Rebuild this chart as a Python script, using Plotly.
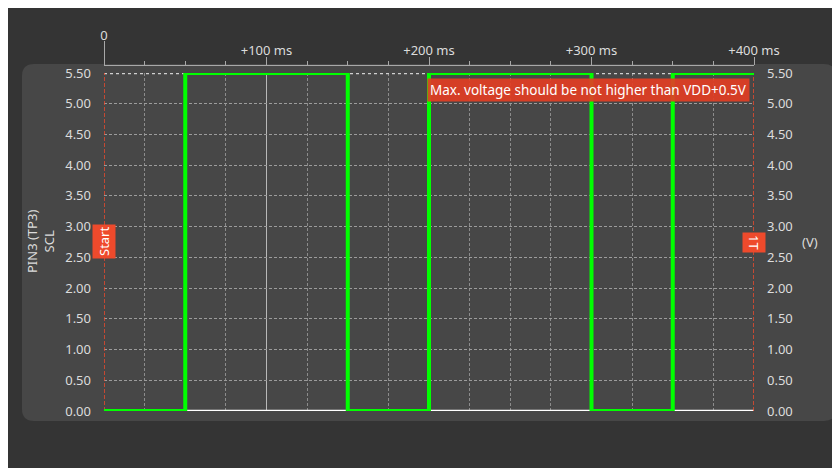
import plotly.graph_objects as go

# ---- data ----
time_ms = [0, 50, 150, 200, 300, 350, 400]
scl_v = [0, 5.5, 0, 5.5, 0, 5.5, 5.5]
t_range = [0, 400]
v_max = 5.5
v_min = 0.0
top_tick_vals = [100, 200, 300, 400]
top_tick_text = ["+100 ms", "+200 ms", "+300 ms", "+400 ms"]
marker_times = [0, 400]
marker_labels = ["Start", "1T"]
warning_text = "Max. voltage should be not higher than VDD+0.5V"
y_title = "PIN3 (TP3)<br>SCL"
unit_text = "(V)"

FONT = "Noto Sans"
TXT = "#dcdcdc"
RED = "#ee4a2c"
FS = 13

W, H = 833, 461
ml, mr, mt, mb = 96, 87, 57, 58
plot_w = W - ml - mr
plot_h = H - mt - mb
ydom_top = (plot_h - 8) / plot_h

fig = go.Figure()

# reference lines (limits)
fig.add_trace(go.Scatter(x=t_range, y=[v_max, v_max], mode="lines",
                         line=dict(color="#d0d0d0", width=2.5, dash="dot"),
                         hoverinfo="skip", showlegend=False))
fig.add_trace(go.Scatter(x=t_range, y=[v_min, v_min], mode="lines",
                         line=dict(color="#ffffff", width=2.5),
                         hoverinfo="skip", showlegend=False))
# marker lines
for t in marker_times:
    fig.add_trace(go.Scatter(x=[t, t], y=[v_min, v_max], mode="lines",
                             line=dict(color=RED, width=1.5, dash="4px,2px"),
                             hoverinfo="skip", showlegend=False))
# signal
fig.add_trace(go.Scatter(x=time_ms, y=scl_v, mode="lines", line_shape="hv",
                         line=dict(color="#00ff00", width=4),
                         showlegend=False))
# invisible traces to activate auxiliary axes
fig.add_trace(go.Scatter(x=t_range, y=[v_min, v_max], yaxis="y2", mode="lines",
                         line=dict(width=0), hoverinfo="skip", showlegend=False, opacity=0))
fig.add_trace(go.Scatter(x=t_range, y=[v_min, v_max], xaxis="x2", mode="lines",
                         line=dict(width=0), hoverinfo="skip", showlegend=False, opacity=0))
fig.add_trace(go.Scatter(x=t_range, y=[v_min, v_max], xaxis="x3", mode="lines",
                         line=dict(width=0), hoverinfo="skip", showlegend=False, opacity=0))

# panel rounded rect
px0 = (14 - ml) / plot_w
px1 = (828 - ml) / plot_w
py0 = (H - mb - 413) / plot_h
py1 = (H - mb - 56) / plot_h
rx = 12 / plot_w
ry = 12 / plot_h
path = (f"M {px0+rx},{py0} L {px1-rx},{py0} Q {px1},{py0} {px1},{py0+ry} "
        f"L {px1},{py1-ry} Q {px1},{py1} {px1-rx},{py1} L {px0+rx},{py1} "
        f"Q {px0},{py1} {px0},{py1-ry} L {px0},{py0+ry} Q {px0},{py0} {px0+rx},{py0} Z")
fig.add_shape(type="path", path=path, xref="paper", yref="paper",
              fillcolor="#474747", line=dict(width=0), layer="below")

axis_font = dict(family=FONT, size=FS, color=TXT)

fig.update_layout(
    width=W, height=H,
    margin=dict(l=ml, r=mr, t=mt, b=mb),
    paper_bgcolor="#343434",
    plot_bgcolor="#444444",
    font=dict(family=FONT, size=FS, color=TXT),
    xaxis=dict(range=t_range, showgrid=True, tick0=0, dtick=100,
               gridcolor="#b8b8b8", gridwidth=1, showticklabels=False,
               zeroline=False, showline=False, ticks="",
               minor=dict(dtick=25, tick0=0, showgrid=True, gridcolor="#8c8c8c",
                          griddash="3px,2px", gridwidth=1)),
    xaxis2=dict(range=t_range, overlaying="x", anchor="free", position=1, side="top",
                showgrid=False, zeroline=False, showline=True, linecolor="#a8a8a8",
                linewidth=1, tickmode="array", tickvals=top_tick_vals,
                ticktext=top_tick_text, ticks="outside", ticklen=8,
                tickcolor="#a8a8a8", tickfont=axis_font, ticklabelstandoff=-3,
                minor=dict(dtick=25, tick0=0, ticks="outside", ticklen=4,
                           tickcolor="#a8a8a8")),
    xaxis3=dict(range=t_range, overlaying="x", anchor="free", position=1, side="top",
                showgrid=False, zeroline=False, showline=False, tickmode="array",
                tickvals=[0], ticktext=["0"], ticks="outside", ticklen=24,
                tickcolor="#a8a8a8", tickfont=axis_font, ticklabelstandoff=-4),
    yaxis=dict(range=[v_min, v_max], domain=[0, ydom_top], dtick=0.5, tick0=0,
               tickformat=".2f", showgrid=True, gridcolor="#9c9c9c",
               griddash="3px,2px", gridwidth=1, zeroline=False, showline=False,
               ticks="", ticklabelstandoff=12, tickfont=axis_font),
    yaxis2=dict(range=[v_min, v_max], overlaying="y", side="right", dtick=0.5,
                tick0=0, tickformat=".2f", showgrid=False, zeroline=False,
                showline=False, ticks="", ticklabelstandoff=12, tickfont=axis_font),
)

# marker labels
for t, lab, ang in zip(marker_times, marker_labels, [-90, 90]):
    fig.add_annotation(x=t, y=2.75, xref="x", yref="y", text=lab, textangle=ang,
                       showarrow=False, bgcolor=RED, borderpad=2,
                       font=dict(family=FONT, size=FS, color="#ffffff"))

# warning label
fig.add_annotation(x=400, y=v_max, xref="x", yref="y", text=warning_text,
                   xanchor="right", yanchor="top", xshift=-4, yshift=-5,
                   showarrow=False, bgcolor="rgba(226,62,36,0.92)", borderpad=2,
                   font=dict(family=FONT, size=13.5, color="#ffffff"))

# axis titles
fig.add_annotation(x=(32 - ml) / plot_w, y=2.75, xref="paper", yref="y",
                   xanchor="center", yanchor="middle",
                   text=y_title, textangle=-90, showarrow=False,
                   font=dict(family=FONT, size=FS, color=TXT))
fig.add_annotation(x=(802 - ml) / plot_w, y=2.75, xref="paper", yref="y",
                   xanchor="center", yanchor="middle",
                   text=unit_text, showarrow=False,
                   font=dict(family=FONT, size=FS, color=TXT))

fig.write_html("out.html")
